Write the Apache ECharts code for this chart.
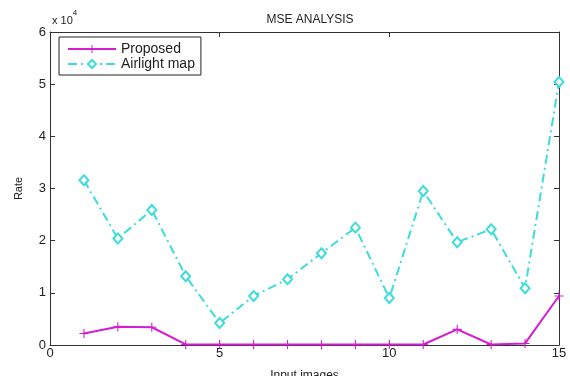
<!DOCTYPE html>
<html><head><meta charset="utf-8">
<script src="https://cdn.jsdelivr.net/npm/echarts@6/dist/echarts.min.js"></script>
<style>html,body{margin:0;padding:0;background:#fff}#c{width:570px;height:376px}</style>
</head><body><div id="c"></div>
<script>
const images = [1,2,3,4,5,6,7,8,9,10,11,12,13,14,15];
const proposed = [2200, 3500, 3400, 100, 100, 100, 100, 100, 100, 100, 100, 3000, 100, 300, 9400];
const airlight = [31600, 20400, 25900, 13200, 4200, 9400, 12600, 17600, 22500, 9000, 29500, 19700, 22200, 10900, 50400];
const yTicks = [0,1,2,3,4,5,6];
const xTicks = [0,5,10,15];

const plusPath = 'path://M-1.2,-10 L1.2,-10 L1.2,-1.2 L10,-1.2 L10,1.2 L1.2,1.2 L1.2,10 L-1.2,10 L-1.2,1.2 L-10,1.2 L-10,-1.2 L-1.2,-1.2 Z';
const font = 'Liberation Sans, Arial, sans-serif';
const axisCol = '#333';

const chart = echarts.init(document.getElementById('c'));
chart.setOption({
  animation: false,
  textStyle: {fontFamily: font},
  title: {text: 'MSE ANALYSIS', left: 305, top: 9, textAlign: 'center',
    textStyle: {fontSize: 12, fontWeight: 'normal', color: '#222', fontFamily: font}},
  graphic: [{type: 'text', left: 52, top: 9, style: {
    text: '{a|x 10}{b|4}', rich: {a: {fontSize: 11, fontFamily: font, fill: '#222', padding:[6,0,0,0]}, b: {fontSize: 8, fontFamily: font, fill: '#222', verticalAlign: 'top'}}}}],
  legend: {left: 59, top: 37, orient: 'vertical', borderColor: '#222', borderWidth: 1,
    backgroundColor: '#fff', padding: [5, 6, 4, 8], itemGap: 1, itemWidth: 48, itemHeight: 10,
    textStyle: {fontSize: 14, color: '#222', fontFamily: font},
    data: ['Proposed', 'Airlight map']},
  grid: {left: 50, right: 11, top: 32, bottom: 31, outerBoundsMode: 'none', containLabel: false},
  xAxis: [{type: 'value', min: 0, max: 15, interval: 5, position: 'bottom',
    name: 'Input images', nameLocation: 'middle', nameGap: 25,
    nameTextStyle: {fontSize: 12, color: '#222'},
    axisLine: {show: true, onZero: false, lineStyle: {color: axisCol}},
    axisTick: {show: true, inside: true, length: 5, lineStyle: {color: axisCol}},
    axisLabel: {fontSize: 13, color: '#222', margin: 2, formatter: v => xTicks.includes(v) ? String(v) : ''},
    splitLine: {show: false}},
    {type: 'value', min: 0, max: 15, interval: 5, position: 'top',
    axisLine: {show: true, onZero: false, lineStyle: {color: axisCol}},
    axisTick: {show: true, inside: true, length: 5, lineStyle: {color: axisCol}},
    axisLabel: {show: false}, splitLine: {show: false}}],
  yAxis: [{type: 'value', min: 0, max: 60000, interval: 10000, position: 'left',
    name: 'Rate', nameLocation: 'middle', nameGap: 26, nameRotate: 90,
    nameTextStyle: {fontSize: 11, color: '#222'},
    axisLine: {show: true, onZero: false, lineStyle: {color: axisCol}},
    axisTick: {show: true, inside: true, length: 5, lineStyle: {color: axisCol}},
    axisLabel: {fontSize: 13, color: '#222', margin: 4, formatter: v => String(yTicks[Math.round(v/10000)])},
    splitLine: {show: false}},
    {type: 'value', min: 0, max: 60000, interval: 10000, position: 'right',
    axisLine: {show: true, onZero: false, lineStyle: {color: axisCol}},
    axisTick: {show: true, inside: true, length: 5, lineStyle: {color: axisCol}},
    axisLabel: {show: false}, splitLine: {show: false}}],
  series: [
    {name: 'Proposed', type: 'line', data: images.map((x,i)=>[x, proposed[i]]),
      symbol: plusPath, symbolSize: 9, showAllSymbol: true,
      lineStyle: {color: '#d41cd0', width: 2}, itemStyle: {color: '#d41cd0'}, z: 3},
    {name: 'Airlight map', type: 'line', data: images.map((x,i)=>[x, airlight[i]]),
      symbol: 'emptyDiamond', symbolSize: [9, 10], showAllSymbol: true,
      lineStyle: {color: '#3ddcdc', width: 2, type: [9, 4, 2, 4]},
      itemStyle: {color: '#3ddcdc', borderColor: '#3ddcdc', borderWidth: 2}, z: 2}
  ]
});
</script></body></html>
